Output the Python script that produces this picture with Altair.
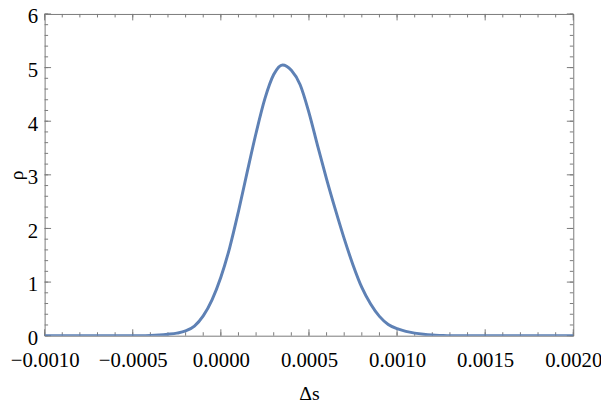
import altair as alt
import pandas as pd

# Curve samples
ds = [-0.0010, -0.0009, -0.0008, -0.0007, -0.0006, -0.0005, -0.00045, -0.0004, -0.00035,
      -0.0003, -0.00025, -0.0002, -0.00015, -0.0001, -0.00005, 0.0, 0.00005, 0.0001,
      0.00015, 0.0002, 0.00025, 0.0003, 0.00035, 0.0004, 0.00045, 0.0005, 0.00055,
      0.0006, 0.00065, 0.0007, 0.00075, 0.0008, 0.00085, 0.0009, 0.00095, 0.0010,
      0.00105, 0.0011, 0.00115, 0.0012, 0.00125, 0.0013, 0.0014, 0.0015, 0.0016,
      0.0017, 0.0018, 0.0019, 0.0020]
rho = [0.0, 0.0, 0.0, 0.0, 0.0, 0.0, 0.0, 0.004, 0.013,
       0.028, 0.048, 0.088, 0.18, 0.37, 0.67, 1.09, 1.64, 2.32,
       3.06, 3.78, 4.42, 4.87, 5.05, 4.95, 4.68, 4.16, 3.53,
       2.92, 2.35, 1.81, 1.32, 0.90, 0.59, 0.36, 0.21, 0.13,
       0.08, 0.048, 0.026, 0.012, 0.005, 0.0, 0.0, 0.0, 0.0,
       0.0, 0.0, 0.0, 0.0]

x_major = [-0.0010, -0.0005, 0.0, 0.0005, 0.0010, 0.0015, 0.0020]
y_major = [0, 1, 2, 3, 4, 5, 6]
x_minor = [round(-0.0010 + i * 0.0001, 6) for i in range(31)]
y_minor = [round(i * 0.2, 3) for i in range(31)]

W, H = 534, 325
frame = "#7a7a7a"
line_color = "#5E81B5"
font = "Liberation Serif, Times New Roman, serif"

xscale = alt.Scale(domain=[-0.0010, 0.0020], nice=False, zero=False)
yscale = alt.Scale(domain=[0, 6], nice=False)
xaxis = alt.Axis(values=x_major, format=".4f", title="Δs", ticks=False, domain=False,
                 grid=False, labelPadding=14, titlePadding=13, labelFlush=False)
yaxis = alt.Axis(values=y_major, format="d", title="ρ", ticks=False, domain=False,
                 grid=False, labelPadding=7, titlePadding=1, labelOffset=3)

curve = alt.Chart(pd.DataFrame({"x": ds, "y": rho})).mark_line(
    color=line_color, strokeWidth=3, interpolate="monotone", clip=True
).encode(x=alt.X("x:Q", scale=xscale, axis=xaxis),
         y=alt.Y("y:Q", scale=yscale, axis=yaxis))

xmaj = pd.DataFrame({"x": x_major})
xmin = pd.DataFrame({"x": x_minor})
ymaj = pd.DataFrame({"y": y_major})
ymin = pd.DataFrame({"y": y_minor})


def xticks(df, top, length):
    if top:
        y0, y1 = 0, length
    else:
        y0, y1 = H, H - length
    return alt.Chart(df).mark_rule(color=frame, strokeWidth=1).encode(
        x=alt.X("x:Q", scale=xscale, axis=xaxis), y=alt.value(y0), y2=alt.value(y1))


def yticks(df, right, length):
    if right:
        x0, x1 = W, W - length
    else:
        x0, x1 = 0, length
    return alt.Chart(df).mark_rule(color=frame, strokeWidth=1).encode(
        y=alt.Y("y:Q", scale=yscale, axis=yaxis), x=alt.value(x0), x2=alt.value(x1))


layers = [
    xticks(xmin, False, 3.5), xticks(xmaj, False, 6.5),
    xticks(xmin, True, 3.5), xticks(xmaj, True, 6.5),
    yticks(ymin, False, 3.5), yticks(ymaj, False, 6.5),
    yticks(ymin, True, 3.5), yticks(ymaj, True, 6.5),
    curve,
]

chart = alt.layer(*layers).properties(
    width=W, height=H,
    autosize=alt.AutoSizeParams(type="none"),
    padding={"left": 37, "top": 4, "right": 28, "bottom": 70},
).configure_view(
    stroke=frame, strokeWidth=1
).configure_axis(
    labelFont=font, labelFontSize=21, labelColor="black",
    titleFont=font, titleFontSize=20, titleColor="black", titleFontWeight="normal",
)

chart.save("out.html", embed_options={"renderer": "svg", "actions": False})
